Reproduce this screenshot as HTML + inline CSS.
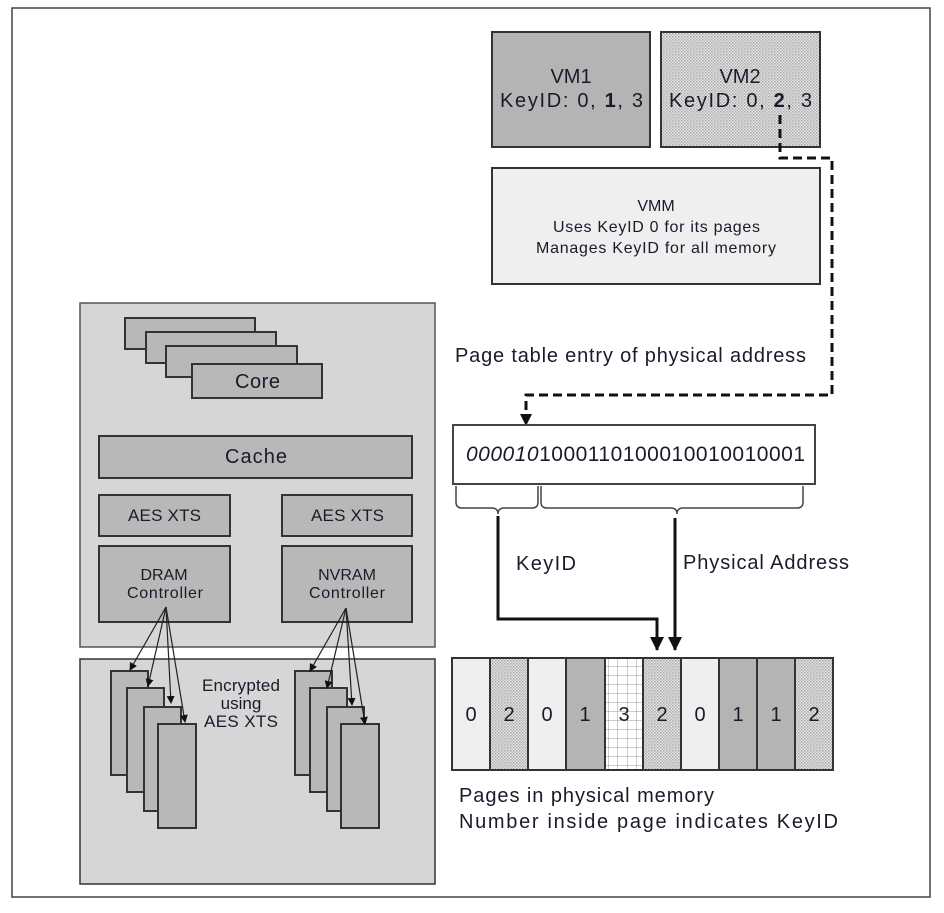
<!DOCTYPE html>
<html><head><meta charset="utf-8"><style>body{margin:0;background:#fff}svg{display:block}text{font-family:"Liberation Sans",Arial,sans-serif;fill:#1a1a2a}</style></head><body>
<svg width="944" height="913" viewBox="0 0 944 913" xmlns="http://www.w3.org/2000/svg">
<defs>
<pattern id="dot" width="3" height="3" patternUnits="userSpaceOnUse"><rect width="3" height="3" fill="#e6e6e6"/><rect width="1.5" height="1.5" fill="#a8a8a8"/><rect x="1.5" y="1.5" width="1.5" height="1.5" fill="#b8b8b8"/></pattern>
<pattern id="grid" width="9.5" height="9" patternUnits="userSpaceOnUse"><rect width="9.5" height="9" fill="#fff"/><path d="M0 0H9.5M0 0V9" stroke="#999" stroke-width="1"/></pattern>
<marker id="ah" markerWidth="8" markerHeight="8" refX="7" refY="4" orient="auto" markerUnits="userSpaceOnUse"><path d="M0 0L8 4L0 8z" fill="#111"/></marker>
<marker id="ah2" markerWidth="14" markerHeight="14" refX="13" refY="7" orient="auto" markerUnits="userSpaceOnUse"><path d="M0 0L14 7L0 14z" fill="#111"/></marker>
</defs>
<rect x="12" y="8" width="918" height="889" fill="#fff" stroke="#444" stroke-width="1.5"/>
<rect x="492" y="32" width="158" height="115" fill="#b4b4b4" stroke="#333" stroke-width="2"/>
<text x="571" y="83" font-size="20" text-anchor="middle">VM1</text>
<text x="500" y="107" font-size="20" textLength="143">KeyID: 0, <tspan font-weight="bold">1</tspan>, 3</text>
<rect x="661" y="32" width="159" height="115" fill="url(#dot)" stroke="#333" stroke-width="2"/>
<text x="740" y="83" font-size="20" text-anchor="middle">VM2</text>
<text x="669" y="107" font-size="20" textLength="143">KeyID: 0, <tspan font-weight="bold">2</tspan>, 3</text>
<rect x="492" y="168" width="328" height="116" fill="#efefef" stroke="#333" stroke-width="2"/>
<text x="656" y="211" font-size="16" text-anchor="middle">VMM</text>
<text x="553" y="232" font-size="16" textLength="207">Uses KeyID 0 for its pages</text>
<text x="536" y="253" font-size="16" textLength="240">Manages KeyID for all memory</text>
<path d="M780 115V158H832V395H526V418" fill="none" stroke="#111" stroke-width="3" stroke-dasharray="9,5"/>
<path d="M520 414L532 414L526 426z" fill="#111"/>
<text x="455" y="362" font-size="20" textLength="351">Page table entry of physical address</text>
<rect x="453" y="425" width="362" height="59" fill="#fff" stroke="#444" stroke-width="2"/>
<text x="466" y="461" font-size="21" textLength="339"><tspan font-style="italic">000010</tspan>1000110100010010010001</text>
<path d="M456 486V502Q456 508 462 508H492Q498 508 498 514Q498 508 504 508H532Q538 508 538 502V486" fill="none" stroke="#444" stroke-width="1.5"/>
<path d="M541 486V502Q541 508 547 508H671Q677 508 677 514Q677 508 683 508H797Q803 508 803 502V486" fill="none" stroke="#444" stroke-width="1.5"/>
<path d="M498 516V619H657V650" fill="none" stroke="#111" stroke-width="3" marker-end="url(#ah2)"/>
<path d="M675 518V650" fill="none" stroke="#111" stroke-width="3" marker-end="url(#ah2)"/>
<text x="516" y="570" font-size="20" textLength="60">KeyID</text>
<text x="683" y="569" font-size="20" textLength="166">Physical Address</text>
<g stroke="#333" stroke-width="2">
<rect x="452" y="658" width="38" height="112" fill="#efefef"/>
<rect x="490" y="658" width="38" height="112" fill="url(#dot)"/>
<rect x="528" y="658" width="38" height="112" fill="#efefef"/>
<rect x="566" y="658" width="39" height="112" fill="#b4b4b4"/>
<rect x="605" y="658" width="38" height="112" fill="url(#grid)"/>
<rect x="643" y="658" width="38" height="112" fill="url(#dot)"/>
<rect x="681" y="658" width="38" height="112" fill="#efefef"/>
<rect x="719" y="658" width="38" height="112" fill="#b4b4b4"/>
<rect x="757" y="658" width="38" height="112" fill="#b4b4b4"/>
<rect x="795" y="658" width="38" height="112" fill="url(#dot)"/>
</g>
<g font-size="20" text-anchor="middle">
<text x="471" y="721">0</text><text x="509" y="721">2</text><text x="547" y="721">0</text><text x="585" y="721">1</text><text x="624" y="721">3</text><text x="662" y="721">2</text><text x="700" y="721">0</text><text x="738" y="721">1</text><text x="776" y="721">1</text><text x="814" y="721">2</text>
</g>
<text x="459" y="802" font-size="20" textLength="255">Pages in physical memory</text>
<text x="459" y="828" font-size="20" textLength="379">Number inside page indicates KeyID</text>
<rect x="80" y="303" width="355" height="344" fill="#d6d6d6" stroke="#555" stroke-width="1.5"/>
<rect x="80" y="659" width="355" height="225" fill="#d6d6d6" stroke="#333" stroke-width="1.5"/>
<g stroke="#333" stroke-width="2" fill="#b8b8b8">
<rect x="125" y="318" width="130" height="31"/>
<rect x="146" y="332" width="130" height="31"/>
<rect x="166" y="346" width="131" height="31"/>
<rect x="192" y="364" width="130" height="34"/>
<rect x="99" y="436" width="313" height="42"/>
<rect x="99" y="495" width="131" height="41"/>
<rect x="282" y="495" width="130" height="41"/>
<rect x="99" y="546" width="131" height="76"/>
<rect x="282" y="546" width="130" height="76"/>
</g>
<text x="235" y="388" font-size="20" textLength="45">Core</text>
<text x="225" y="463" font-size="20" textLength="62">Cache</text>
<text x="128" y="521" font-size="17" textLength="73">AES XTS</text>
<text x="311" y="521" font-size="17" textLength="73">AES XTS</text>
<text x="164" y="580" font-size="16" text-anchor="middle">DRAM</text>
<text x="127" y="598" font-size="16" textLength="76">Controller</text>
<text x="347" y="580" font-size="16" text-anchor="middle">NVRAM</text>
<text x="309" y="598" font-size="16" textLength="76">Controller</text>
<g stroke="#333" stroke-width="2" fill="#b8b8b8">
<rect x="111" y="671" width="37" height="104"/>
<rect x="127" y="688" width="37" height="104"/>
<rect x="144" y="707" width="37" height="104"/>
<rect x="158" y="724" width="38" height="104"/>
<rect x="295" y="671" width="37" height="104"/>
<rect x="310" y="688" width="37" height="104"/>
<rect x="327" y="707" width="37" height="104"/>
<rect x="341" y="724" width="38" height="104"/>
</g>
<g stroke="#222" stroke-width="1.2" fill="none" marker-end="url(#ah)">
<path d="M166 607L130 670"/><path d="M166 607L148 686"/><path d="M166 607L171 703"/><path d="M166 607L185 722"/>
<path d="M346 608L310 671"/><path d="M346 608L327 688"/><path d="M346 608L352 705"/><path d="M346 608L365 724"/>
</g>
<text x="202" y="691" font-size="17" textLength="78">Encrypted</text>
<text x="241" y="709" font-size="17" text-anchor="middle">using</text>
<text x="204" y="727" font-size="17" textLength="74">AES XTS</text>
</svg>
</body></html>
